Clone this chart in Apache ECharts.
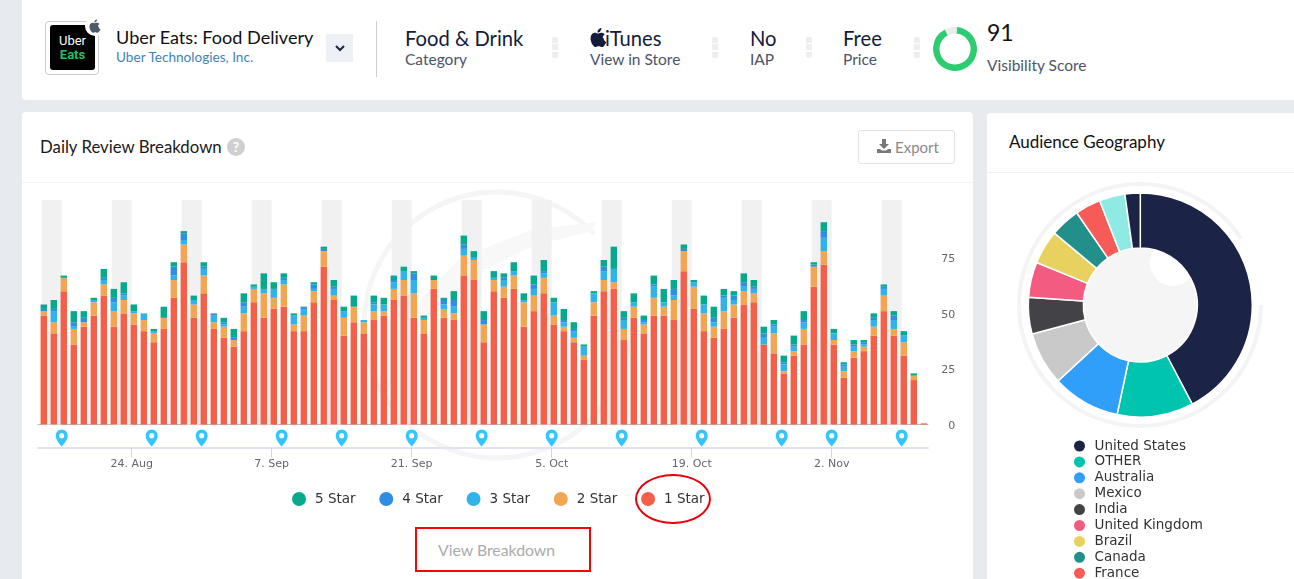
<!DOCTYPE html>
<html lang="en">
<head>
<meta charset="UTF-8">
<title>Uber Eats: Food Delivery</title>
<script src="https://cdn.jsdelivr.net/npm/echarts@6/dist/echarts.min.js"></script>
<style>
html,body{margin:0;padding:0;width:1294px;height:579px;overflow:hidden;background:#e7ebef;font-family:Lato,sans-serif;color:#1c2340}
.card{position:absolute;background:#fff;border-radius:4px}
.t{position:absolute;white-space:nowrap}
.big{font-size:20.2px;line-height:24px;color:#141b3c}
.sub{font-size:15.5px;line-height:18px;color:#4d5568}
.dots{position:absolute;top:37px;width:6px;height:21px;background:repeating-linear-gradient(#eee 0,#eee 6px,#fff 6px,#fff 7.5px);border-radius:2px}
#main{position:absolute;left:0;top:0;width:1294px;height:579px}
</style>
</head>
<body>
<div class="card" style="left:22px;top:-6px;width:1290px;height:106px"></div>
<div class="card" style="left:22px;top:112px;width:951px;height:480px"></div>
<div class="card" style="left:987px;top:113px;width:320px;height:480px"></div>
<div style="position:absolute;left:22px;top:182px;width:951px;height:1px;background:#f1f3f5"></div>
<div style="position:absolute;left:987px;top:172px;width:307px;height:1px;background:#eef1f4"></div>

<div style="position:absolute;left:45px;top:21px;width:52px;height:52px;border:1px solid #ccc;border-radius:4px;background:#fff"></div>
<div style="position:absolute;left:50px;top:25px;width:45px;height:45px;background:#000;border-radius:3px;color:#fff;font:13px/14px Roboto,sans-serif;text-align:center;box-sizing:border-box">
  <div style="margin-top:9px">Uber</div><div style="color:#1fc16b;font-weight:700">Eats</div>
</div>
<div style="position:absolute;left:85px;top:16px;width:20px;height:20px;border-radius:50%;background:#fff"></div>
<svg style="position:absolute;left:87px;top:18px" width="16" height="16" viewBox="0 0 24 24"><path fill="#4b5a6b" d="M16.4 12.6c0-2.4 2-3.6 2.1-3.7-1.1-1.7-2.9-1.9-3.5-1.9-1.5-.2-2.9.9-3.7.9s-1.9-.9-3.2-.8C6.9 7.1 5.4 8 4.5 9.4c-1.8 3.1-.5 7.7 1.3 10.2.9 1.2 1.9 2.6 3.2 2.5 1.3-.1 1.8-.8 3.3-.8s2 .8 3.3.8c1.4 0 2.2-1.2 3.1-2.5 1-1.4 1.4-2.8 1.4-2.9-.1 0-2.7-1-2.7-4.1zM13.9 5.3c.7-.9 1.2-2 1.1-3.2-1 0-2.3.7-3 1.6-.6.7-1.2 1.9-1.1 3 1.2.1 2.3-.6 3-1.4z"/></svg>

<div class="t" style="left:116px;top:26px;font-size:18.1px;line-height:22px;color:#111">Uber Eats: Food Delivery</div>
<div class="t" style="left:116px;top:49px;font-size:13.6px;line-height:16px;color:#3f84b8">Uber Technologies, Inc.</div>
<div style="position:absolute;left:326px;top:34px;width:27px;height:28px;background:#edf0f4"></div>
<svg style="position:absolute;left:335px;top:44px" width="10" height="8" viewBox="0 0 10 8"><path d="M1 2 L5 6 L9 2" fill="none" stroke="#1c2340" stroke-width="2"/></svg>
<div style="position:absolute;left:376px;top:21px;width:1px;height:56px;background:#c9ced4"></div>

<div class="t big" style="left:405px;top:26px">Food &amp; Drink</div>
<div class="t sub" style="left:405px;top:50px">Category</div>
<div class="dots" style="left:552px"></div>
<svg style="position:absolute;left:589px;top:27px" width="19" height="21" viewBox="2 1 20 22"><path fill="#141b3c" d="M16.4 12.6c0-2.4 2-3.6 2.1-3.7-1.1-1.7-2.9-1.9-3.5-1.9-1.5-.2-2.9.9-3.7.9s-1.9-.9-3.2-.8C6.9 7.1 5.4 8 4.5 9.4c-1.8 3.1-.5 7.7 1.3 10.2.9 1.2 1.9 2.6 3.2 2.5 1.3-.1 1.8-.8 3.3-.8s2 .8 3.3.8c1.4 0 2.2-1.2 3.1-2.5 1-1.4 1.4-2.8 1.4-2.9-.1 0-2.7-1-2.7-4.1zM13.9 5.3c.7-.9 1.2-2 1.1-3.2-1 0-2.3.7-3 1.6-.6.7-1.2 1.9-1.1 3 1.2.1 2.3-.6 3-1.4z"/></svg>
<div class="t big" style="left:605px;top:26px">iTunes</div>
<div class="t sub" style="left:590px;top:50px">View in Store</div>
<div class="dots" style="left:712px"></div>
<div class="t big" style="left:750px;top:26px">No</div>
<div class="t sub" style="left:750px;top:50px">IAP</div>
<div class="dots" style="left:806px"></div>
<div class="t big" style="left:843px;top:26px">Free</div>
<div class="t sub" style="left:843px;top:50px">Price</div>
<div class="dots" style="left:914px"></div>
<div class="t" style="left:987px;top:19px;font-size:23px;line-height:26px;color:#111">91</div>
<div class="t sub" style="left:987px;top:56px">Visibility Score</div>

<div class="t" style="left:40px;top:137px;font-size:16.8px;line-height:20px;color:#1a1a1a">Daily Review Breakdown</div>
<div class="t" style="left:227px;top:138px;width:18px;height:18px;border-radius:50%;background:#cfcfcf;color:#fff;font:700 14px/18px Lato,sans-serif;text-align:center">?</div>
<div style="position:absolute;left:858px;top:130px;width:95px;height:32px;border:1px solid #dfe2e6;border-radius:3px"></div>
<svg style="position:absolute;left:877px;top:139px" width="14" height="14" viewBox="0 0 14 14"><path fill="#777" d="M5 0h4v5h3L7 10 2 5h3zM0 10h3l2 1.5h4L11 10h3v4H0z"/></svg>
<div class="t" style="left:895px;top:138px;font-size:15px;line-height:18px;color:#8a8a8a">Export</div>
<div class="t" style="left:1009px;top:132px;font-size:17px;line-height:20px;color:#111">Audience Geography</div>
<div class="t" style="left:438px;top:541px;font-size:15.8px;line-height:18px;color:#aaa">View Breakdown</div>

<div id="main"></div>

<div style="position:absolute;left:415px;top:527px;width:172px;height:41px;border:2px solid #f00"></div>
<div style="position:absolute;left:635px;top:474px;width:72px;height:46px;border:2.5px solid #e8000b;border-radius:50%"></div>

<script>
// reviews per day, from 15 Aug, one entry per day
var star1 = [49,41,60,36,44,49,58,44,50,45,42,37,43,57,73,48,59,43,39,35,42,55,48,52,53,42,42,55,71,56,40,
  46,41,47,49,56,58,48,41,61,48,47,67,65,37,60,57,61,44,51,59,45,42,37,29,49,60,61,38,48,41,49,
  49,47,69,52,42,39,43,48,54,55,36,32,23,31,36,62,72,36,21,30,33,40,51,40,31,20,0.5];
var star2 = [2,5,6,7,2,6,5,7,6,5,5,4,5,8,8,6,8,3,5,3,8,6,11,5,10,3,7,5,7,2,8,
  7,5,4,2,5,7,11,6,4,4,3,9,9,8,5,5,6,11,7,7,4,2,2,2,6,5,3,5,5,4,8,
  4,9,9,10,8,5,8,6,6,4,0,9,1,2,7,9,6,2,3,3,2,4,7,3,6,2,0];
var star3 = [0,5,0,1,0,1,2,4,2,1,3,1,0,2,2,2,3,3,1,0,3,1,2,4,2,4,3,1,0,3,3,
  0,1,3,3,3,4,6,1,0,2,3,3,1,0,1,3,2,1,3,2,6,2,3,4,4,4,6,4,2,1,5,
  2,2,0,2,4,2,6,2,2,2,3,3,3,2,3,0,6,3,2,2,1,3,3,4,3,0,0];
var star4 = [1,1,0,2,2,0,1,2,1,0,0,0,0,4,3,0,1,1,1,1,2,0,0,0,1,0,1,2,1,1,0,
  0,0,1,0,1,0,3,0,0,2,3,2,0,2,0,1,0,0,2,1,0,1,1,0,0,2,0,1,0,1,1,
  0,3,1,0,0,2,1,2,2,1,2,1,1,1,1,1,3,0,1,1,1,1,1,2,0,0,0];
var star5 = [2,4,1,5,3,1,4,4,5,3,0,1,5,2,1,2,2,0,2,4,4,1,7,3,2,1,0,1,1,3,2,
  5,0,3,3,2,2,1,1,2,1,4,4,3,4,3,2,4,3,4,5,2,5,3,1,1,3,10,3,4,2,4,
  6,4,2,1,4,5,3,2,4,3,3,2,3,4,4,1,4,2,1,2,1,2,1,2,2,1,0];

var legendNames = ['5 Star','4 Star','3 Star','2 Star','1 Star'];
var weekends = ['2020-08-15','2020-08-22','2020-08-29','2020-09-05','2020-09-12','2020-09-19','2020-09-26',
  '2020-10-03','2020-10-10','2020-10-17','2020-10-24','2020-10-31','2020-11-07'];
var pinDates = ['2020-08-17','2020-08-26','2020-08-31','2020-09-08','2020-09-14','2020-09-21','2020-09-28',
  '2020-10-05','2020-10-12','2020-10-20','2020-10-28','2020-11-02','2020-11-09'];
var tickDates = ['2020-08-24','2020-09-07','2020-09-21','2020-10-05','2020-10-19','2020-11-02'];
var tickLabels = ['24. Aug','7. Sep','21. Sep','5. Oct','19. Oct','2. Nov'];
var yTicks = ['0','25','50','75'];

var countries = ['United States','OTHER','Australia','Mexico','India','United Kingdom','Brazil','Canada','France','Not listed A','Not listed B'];
var shares = [42.3,11,9.8,7.7,5.25,5.1,4.9,4.3,3.7,3.7,2.2];
var countryColors = ['#1b2347','#00c4ad','#309ffa','#c9c9c9','#434247','#f45b80','#e8d15f','#238f8a','#f65b58','#8eeae3','#1b2347'];
var visibility = [91,9];

var DAY = 86400000;
var startT = Date.parse('2020-08-15');
var shift = 5 * 3600000;   // bars sit a few hours after midnight in the original
var axisMin = startT - 0.37 * DAY, axisMax = axisMin + 89 * DAY;
var tickTs = tickDates.map(function(d){ return Date.parse(d); });

function barSeries(name, values, color, extra){
  var s = {
    name: name, type: 'bar', stack: 'reviews', barWidth: 6.4,
    itemStyle: {color: color}, emphasis: {disabled: true},
    data: values.map(function(v, i){ return [startT + i * DAY + shift, v]; })
  };
  return Object.assign(s, extra || {});
}

var myChart = echarts.init(document.getElementById('main'), null, {renderer: 'canvas'});
var option = {
  animation: false,
  backgroundColor: 'transparent',
  tooltip: {show: false},
  grid: [
    // the bar axis pads itself by half a bar each side, so this grid is that much wider
    {left: 34.8, width: 896.4, top: 200, height: 224.5},
    {left: 38, width: 890, top: 424.5, height: 23}
  ],
  xAxis: [
    // time axis so the bars stack on the y values
    {gridIndex: 0, type: 'time', min: axisMin, max: axisMax,
      axisLine: {show: false}, axisTick: {show: false}, axisLabel: {show: false}, splitLine: {show: false}},
    {gridIndex: 1, type: 'value', min: axisMin, max: axisMax,
      axisLine: {onZero: false, lineStyle: {color: '#dde3ef', width: 2}},
      axisTick: {show: true, length: 10, customValues: tickTs, lineStyle: {color: '#ccd6eb'}},
      axisLabel: {customValues: tickTs, color: '#666', fontSize: 11, fontFamily: 'DejaVu Sans', margin: 11,
        formatter: function(v){ return tickLabels[tickTs.indexOf(v)]; }},
      splitLine: {show: false}},
    // baseline under the bars
    {gridIndex: 1, type: 'value', position: 'top', min: axisMin, max: axisMax,
      axisLine: {onZero: false, lineStyle: {color: '#bdbdbd', width: 1}}, axisTick: {show: false}, axisLabel: {show: false}, splitLine: {show: false}}
  ],
  yAxis: [
    {gridIndex: 0, type: 'value', position: 'right', min: 0, max: 101, interval: 25,
      axisLine: {show: false}, axisTick: {show: false}, splitLine: {show: false},
      axisLabel: {color: '#666', fontSize: 11, fontFamily: 'DejaVu Sans', align: 'right', margin: 24, verticalAlign: 'top', lineHeight: 3,
        formatter: function(v){ return yTicks.indexOf(String(v)) >= 0 ? String(v) : ''; }}},
    {gridIndex: 1, type: 'value', min: -1, max: 1, show: false}
  ],
  legend: [
    {data: legendNames, left: 287, top: 487, itemWidth: 22, itemHeight: 14, itemGap: 23.7, icon: 'circle', selectedMode: false,
      textStyle: {color: '#333', fontSize: 13.5, fontFamily: 'DejaVu Sans'}},
    {data: countries.slice(0, 9), orient: 'vertical', left: 1072, top: 438.5, height: 170, itemWidth: 20, itemHeight: 13, itemGap: 0.9,
      icon: 'circle', selectedMode: false, padding: 0,
      textStyle: {color: '#333', fontSize: 13.5, lineHeight: 13, fontFamily: 'DejaVu Sans'}}
  ],
  graphic: [
    // faint logo behind the bars
    {type: 'arc', silent: true, z: 0, shape: {cx: 497, cy: 325, r: 133, startAngle: -0.75, endAngle: -0.15, clockwise: false},
      style: {fill: null, stroke: '#f5f5f5', lineWidth: 5}},
    {type: 'polygon', silent: true, z: 0,
      shape: {points: [[597,222],[530,230],[460,258],[410,310],[385,395],[420,325],[475,275],[535,245],[590,232]]},
      style: {fill: '#f8f8f8'}},
    // faint ring and centre behind the donut
    {type: 'arc', silent: true, z: 0, shape: {cx: 1140, cy: 305, r: 121, startAngle: 0, endAngle: 5.7, clockwise: true},
      style: {fill: null, stroke: '#f4f4f4', lineWidth: 4}},
    {type: 'circle', silent: true, z: 0, shape: {cx: 1140, cy: 305, r: 58}, style: {fill: '#f5f5f5'}},
    {type: 'circle', silent: true, z: 0, shape: {cx: 1173, cy: 263, r: 23}, style: {fill: '#ffffff'}}
  ],
  series: [
    barSeries('1 Star', star1, '#f45f49', {
      markArea: {silent: true, itemStyle: {color: '#f1f1f1'}, label: {show: false},
        data: weekends.map(function(d){
          var t = Date.parse(d);
          return [{xAxis: t}, {xAxis: t + 2 * DAY}];
        })}
    }),
    barSeries('2 Star', star2, '#f2a654'),
    barSeries('3 Star', star3, '#30b2ea'),
    barSeries('4 Star', star4, '#2f8de4'),
    barSeries('5 Star', star5, '#06a98c'),
    {type: 'scatter', xAxisIndex: 1, yAxisIndex: 1, symbolSize: [12, 17], symbolOffset: [0, 2], silent: true,
      symbol: 'path://M12 0C5.4 0 0 5.4 0 12C0 21 12 33 12 33S24 21 24 12C24 5.4 18.6 0 12 0ZM12 7a5 5 0 1 1-.01 0Z',
      itemStyle: {color: '#00b7ff'},
      data: pinDates.map(function(d){ return [Date.parse(d), 0]; })},
    {type: 'pie', center: [1140.3, 305], radius: [57, 112], startAngle: 90, clockwise: true, silent: true,
      label: {show: false}, labelLine: {show: false},
      itemStyle: {borderColor: '#fff', borderWidth: 1.5},
      data: countries.map(function(n, i){ return {name: n, value: shares[i], itemStyle: {color: countryColors[i]}}; })},
    {type: 'pie', center: [955, 49], radius: [15.5, 22], startAngle: 85, silent: true,
      label: {show: false}, labelLine: {show: false},
      data: [{value: visibility[0], name: 'score', itemStyle: {color: '#2ecc71'}},
             {value: visibility[1], name: 'rest', itemStyle: {color: '#ececec'}}]}
  ]
};
myChart.setOption(option);
</script>
</body>
</html>
